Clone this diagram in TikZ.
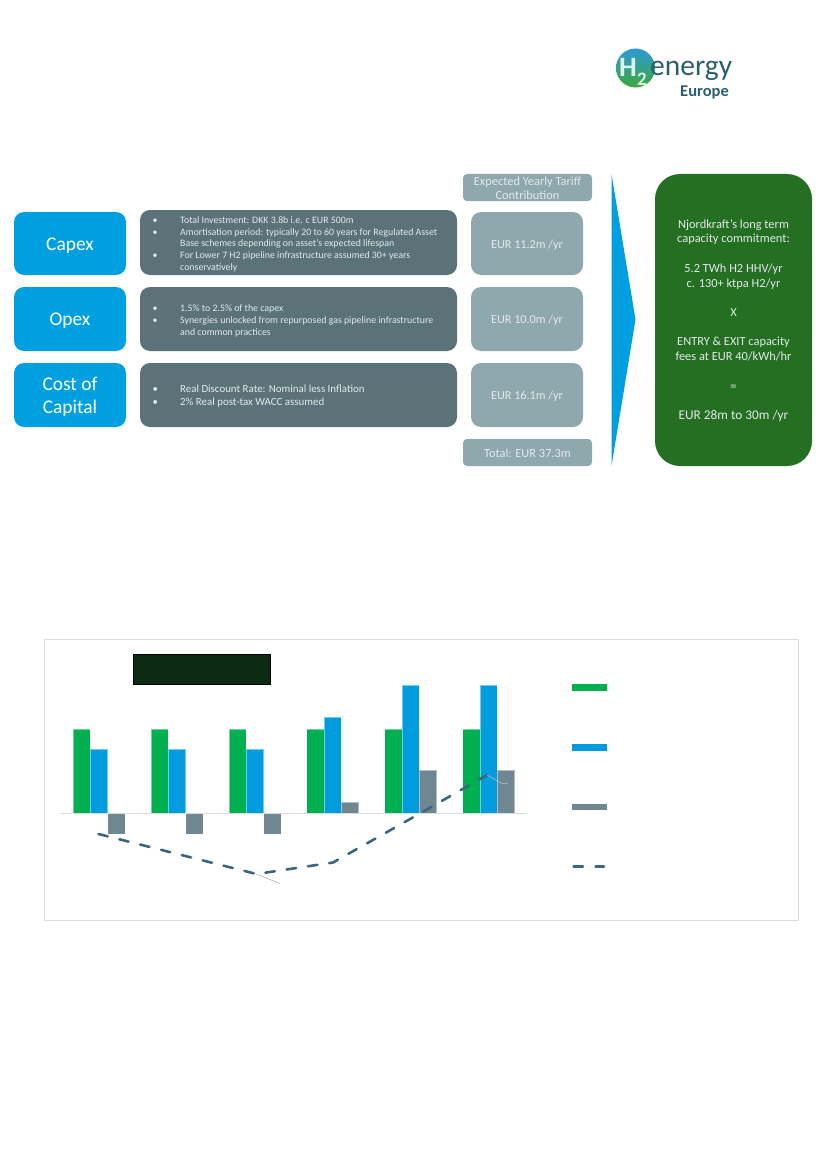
\documentclass[tikz,border=0pt]{standalone}
\usepackage{fontspec}
\setmainfont{Carlito}
\usetikzlibrary{calc}
\definecolor{capblue}{HTML}{009FDF}
\definecolor{slate}{HTML}{5B7278}
\definecolor{paleslate}{HTML}{8FA8AD}
\definecolor{forest}{HTML}{246F22}
\definecolor{barGreen}{HTML}{00AF50}
\definecolor{barBlue}{HTML}{009CDD}
\definecolor{barGrey}{HTML}{6F8791}
\definecolor{lineBlue}{HTML}{3B6680}
\definecolor{softtext}{HTML}{E3EAEB}
\definecolor{frameGrey}{HTML}{DCDCDC}
\definecolor{nightgreen}{HTML}{0D2B13}
\definecolor{logotext}{HTML}{2B5F70}
\definecolor{logotop}{HTML}{2C9AD6}
\definecolor{logomid}{HTML}{36A58C}
\definecolor{logobot}{HTML}{3CA83C}
\newcommand{\blt}{\makebox[27.5pt][l]{•}}
\newcommand{\ind}{\hspace*{27.5pt}}
\newcommand{\bbar}[5]{\draw[fill=#5,draw=white,draw opacity=.45,line width=.5pt] (#1,#2) rectangle (#3,#4);}
\tikzset{
  x=1pt,y=-1pt,
  headbox/.style={fill=capblue,draw=none,rounded corners=10pt,inner sep=0pt},
  headtext/.style={text=white,font=\fontsize{19.4}{23.7}\selectfont,align=center,inner sep=0pt},
  slatebox/.style={fill=slate,draw=none,rounded corners=10pt},
  valuebox/.style={fill=paleslate,draw=none,rounded corners=10pt,inner sep=0pt},
  valuetext/.style={text=softtext,font=\fontsize{12.2}{14}\selectfont,align=center,inner sep=0pt},
  slimbox/.style={fill=paleslate,draw=none,rounded corners=4pt,inner sep=0pt},
  slimtext/.style={text=softtext,font=\fontsize{12.4}{14.6}\selectfont,align=center,inner sep=0pt},
  bullets/.style={text=softtext,anchor=west,align=left,inner sep=0pt,font=\fontsize{9.85}{11.8}\selectfont},
  bullets2/.style={bullets,font=\fontsize{10.9}{13}\selectfont},
  trend/.style={draw=lineBlue,line width=2.6pt,line cap=round,dash pattern=on 9.5pt off 12pt},
  leader/.style={draw=black!35,line width=.5pt},
}
\begin{document}
\begin{tikzpicture}
\useasboundingbox (0,0) rectangle (827,1169);
% logo
\shade[top color=logotop,middle color=logomid,bottom color=logobot] (635.5,68) circle (19.5);
\node[inner sep=0pt,text=white,opacity=.85,font=\fontsize{28}{28}\selectfont\bfseries] (logoH) at (628,67.5) {H};
\node[inner sep=0pt,text=white,opacity=.85,font=\fontsize{19}{19}\selectfont\bfseries] (logoTwo) at (642,79) {2};
\node[inner sep=0pt,anchor=west,text=logotext,font=\fontsize{29.5}{30}\selectfont] (logoE) at (650,70.5) {energy};
\node[inner sep=0pt,text=logotext,font=\fontsize{16.5}{16}\selectfont\bfseries] (logoEu) at (704.5,92.5) {Europe};
% left column
\node[headbox,minimum width=112pt,minimum height=63pt] (capex) at (70,243.5) {};
\node[headbox,minimum width=112pt,minimum height=64pt] (opex) at (70,319) {};
\node[headbox,minimum width=112pt,minimum height=64pt] (coc) at (70,395) {};
\node[headtext] (capexl) at (70,245.5) {Capex};
\node[headtext] (opexl) at (70,321) {Opex};
\node[headtext] (cocl) at (70,397) {Cost of\\Capital};
% description boxes
\node[slatebox,minimum width=317pt,minimum height=65pt] (capexd) at (298.5,242.5) {};
\node[slatebox,minimum width=317pt,minimum height=64pt] (opexd) at (298.5,319) {};
\node[slatebox,minimum width=317pt,minimum height=64pt] (cocd) at (298.5,395) {};
\node[bullets] (capext) at (152.5,244.3) {\blt Total Investment: DKK 3.8b i.e. c EUR 500m\\
\blt Amortisation period: typically 20 to 60 years for Regulated Asset\\
\ind Base schemes depending on asset’s expected lifespan\\
\blt For Lower 7 H2 pipeline infrastructure assumed 30+ years\\
\ind conservatively};
\node[bullets] (opext) at (152.5,320.7) {\blt 1.5\% to 2.5\% of the capex\\
\blt Synergies unlocked from repurposed gas pipeline infrastructure\\
\ind and common practices};
\node[bullets2] (coct) at (152.5,396.5) {\blt Real Discount Rate: Nominal less Inflation\\
\blt 2\% Real post-tax WACC assumed};
% values
\node[slimbox,minimum width=129pt,minimum height=27pt] (hdr) at (527.5,187.5) {};
\node[slimtext] (hdrl) at (527.5,188.3) {Expected Yearly Tariff\\Contribution};
\node[valuebox,minimum width=112pt,minimum height=63pt] (v1) at (527,243.5) {};
\node[valuebox,minimum width=112pt,minimum height=64pt] (v2) at (527,319) {};
\node[valuebox,minimum width=112pt,minimum height=64pt] (v3) at (527,395) {};
\node[valuetext] (v1l) at (527,245) {EUR 11.2m /yr};
\node[valuetext] (v2l) at (527,320) {EUR 10.0m /yr};
\node[valuetext] (v3l) at (527,396.5) {EUR 16.1m /yr};
\node[slimbox,minimum width=129pt,minimum height=27pt] (tot) at (527.5,452.5) {};
\node[slimtext] (totl) at (527.5,453.5) {Total: EUR 37.3m};
% big arrow
\fill[capblue] (611.5,174) -- (635.5,319.5) -- (611.5,466) -- cycle;
% green box
\node[fill=forest,rounded corners=25pt,minimum width=157pt,minimum height=292pt,inner sep=0pt] (commit) at (733.5,320) {};
\node[inner sep=0pt,text=softtext,align=center,font=\fontsize{12.4}{14.8}\selectfont] (commitl) at (733.5,320.5) {Njordkraft’s long term\\capacity commitment:\\[14.6pt]
5.2 TWh H2 HHV/yr\\c. 130+ ktpa H2/yr\\[14.6pt]
X\\[14.6pt]
ENTRY \& EXIT capacity\\fees at EUR 40/kWh/hr\\[14.6pt]
=\\[14.6pt]
{\fontsize{13.3}{14.8}\selectfont EUR 28m to 30m /yr}};
% chart frame
\draw[frameGrey,line width=.8pt] (44.5,639.5) rectangle (798.5,920);
\node[fill=nightgreen,minimum width=137pt,minimum height=30pt,inner sep=0pt,draw=black,line width=.6pt] (blackbox) at (201.5,669) {};
% bars
\foreach \g/\b/\t in {0/749/834,78/749/834,156/749/834,233.7/717/802,311.6/685/770,389.6/685/770}{
  \bbar{73+\g}{729}{90.4+\g}{813}{barGreen}
  \bbar{90.4+\g}{\b}{107.7+\g}{813}{barBlue}
  \bbar{107.7+\g}{\t}{125+\g}{813}{barGrey}
}
\draw[frameGrey,line width=.8pt] (60,813.3) -- (527,813.3);
% trend line
\coordinate (p1) at (98.5,834);
\coordinate (p3) at (256.5,874);
\coordinate (p4) at (333,862.5);
\coordinate (p5) at (411,818.5);
\coordinate (p6) at (487,775);
\draw[trend] (p1) -- (p3) -- (p4) -- (p5) -- (p6);
\coordinate (q1) at (280,883.7);
\coordinate (q2) at (502,783.5);
\coordinate (q3) at (508,783.5);
\draw[leader] (p3) -- (q1);
\draw[leader,draw=black!25] (p6) -- (q2) -- (q3);
% legend
\fill[barGreen] (572,684) rectangle (607,691);
\fill[barBlue] (572,744) rectangle (607,750.5);
\fill[barGrey] (572,803.5) rectangle (607,810);
\coordinate (la) at (573.5,866.3);
\coordinate (lb) at (604,866.3);
\draw[draw=lineBlue,line width=2.4pt,line cap=round,dash pattern=on 9.5pt off 12.5pt] (la) -- (lb);
\end{tikzpicture}
\end{document}
